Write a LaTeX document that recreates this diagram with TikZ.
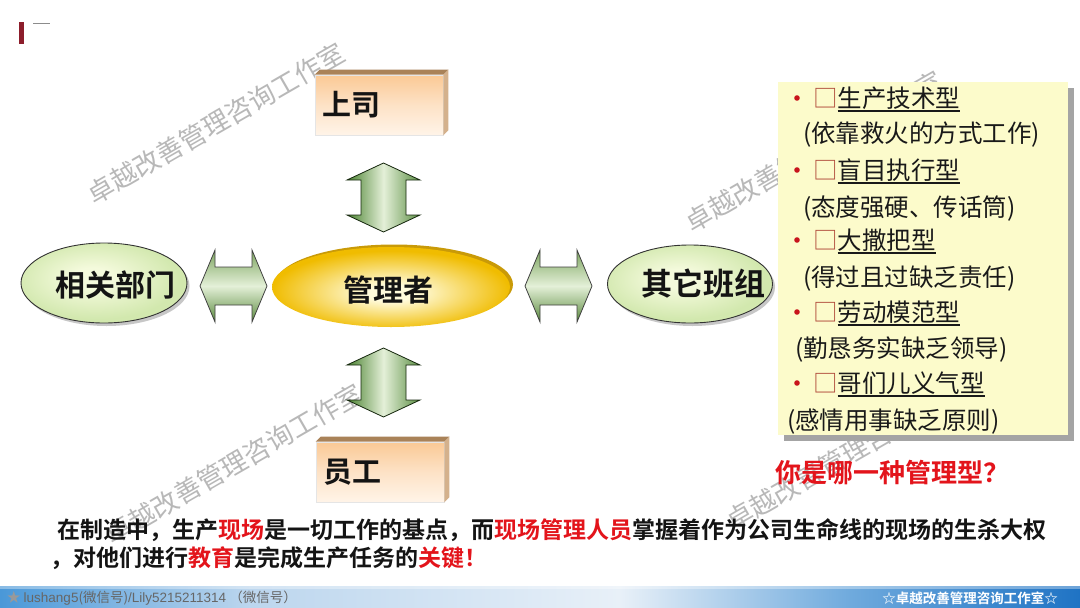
\documentclass[tikz,border=0pt]{standalone}
\usepackage{fontspec}
\setmainfont{Noto Sans CJK SC}[BoldFont={Noto Sans CJK SC Bold}]
\newfontfamily\latf{Liberation Sans}
\usetikzlibrary{shapes.geometric,calc}
\definecolor{redbar}{HTML}{8C1D2B}
\definecolor{bxT}{HTML}{FAC995}
\definecolor{bxM}{HTML}{FDE2C6}
\definecolor{bxB}{HTML}{FFF4E8}
\definecolor{bevT}{HTML}{A98258}
\definecolor{bevR}{HTML}{D4B18C}
\definecolor{agD}{HTML}{4A8230}
\definecolor{agL}{HTML}{E4F0D8}
\definecolor{ahT}{HTML}{7DA560}
\definecolor{ahB}{HTML}{5A8A3E}
\definecolor{goldD}{HTML}{F0BC00}
\definecolor{goldL}{HTML}{FFFBDC}
\definecolor{goldR}{HTML}{C99A08}
\definecolor{grL}{HTML}{F4FADC}
\definecolor{grD}{HTML}{D2E8AE}
\definecolor{panelY}{HTML}{FCFBCB}
\definecolor{shadowG}{HTML}{A4A4A4}
\definecolor{redtxt}{HTML}{E3141B}
\definecolor{bulred}{HTML}{C8141C}
\definecolor{boxred}{HTML}{B04A3A}
\definecolor{wmgray}{HTML}{B8B8B8}
\definecolor{barA}{HTML}{4A98D8}
\definecolor{barB}{HTML}{BCD6EE}
\definecolor{barC}{HTML}{E8F0F8}
\definecolor{barD}{HTML}{6FAADD}
\definecolor{barE}{HTML}{1F73C4}
\pgfdeclareradialshading{goldsh}{\pgfpoint{0bp}{-4bp}}{color(0bp)=(goldL); color(5bp)=(goldL); color(25bp)=(goldD); color(60bp)=(goldD)}
\pgfdeclareradialshading{greensh}{\pgfpoint{-4bp}{4bp}}{color(0bp)=(grL); color(6bp)=(grL); color(25bp)=(grD); color(60bp)=(grD)}
\newcommand\ulin[1]{\setbox0\hbox{#1}\rlap{\rule[-4.6pt]{\wd0}{1.3pt}}\box0}
\newcommand\vdarr[1]{\draw[varr,shift={(#1)}] (0,-34.5) -- (36.5,-17.5) -- (22.5,-17.5) -- (22.5,17.5) -- (36.5,17.5) -- (0,34.5) -- (-36.5,17.5) -- (-22.5,17.5) -- (-22.5,-17.5) -- (-36.5,-17.5) -- cycle;}
\newcommand\hdarr[1]{\draw[harr,shift={(#1)}] (-33.5,0) -- (-18.5,-36) -- (-18.5,-19) -- (18.5,-19) -- (18.5,-36) -- (33.5,0) -- (18.5,36) -- (18.5,19) -- (-18.5,19) -- (-18.5,36) -- cycle;}
\begin{document}
\begin{tikzpicture}[x=1pt,y=-1pt,
  wm/.style={text=wmgray, font=\fontsize{26.5}{26.5}\selectfont, rotate=30, inner sep=0},
  lbl/.style={font=\bfseries\fontsize{30}{30}\selectfont, text=black!92, inner sep=0},
  bx/.style={rectangle, minimum width=128pt, minimum height=60pt, inner sep=0pt, top color=bxT, bottom color=bxB, middle color=bxM, draw=black!10, line width=0.6pt, text width=114pt, align=left, font=\bfseries\fontsize{29}{29}\selectfont, text=black!92},
  varr/.style={left color=agD, right color=agD!90, middle color=agL, draw=black!70!agD, line width=0.8pt, line join=miter},
  harr/.style={top color=ahT, bottom color=ahB, middle color=agL, draw=black!75, line width=0.8pt, line join=miter},
  grell/.style={ellipse, shade, shading=greensh, draw=black!80, line width=0.9pt, inner sep=0pt},
  ptxt/.style={font=\fontsize{24.5}{24.5}\selectfont, anchor=base west, inner sep=0pt, text=black!90},
  btxt/.style={font=\bfseries\fontsize{23}{23}\selectfont, anchor=base west, inner sep=0pt, text=black!92}]
\useasboundingbox (0,0) rectangle (1080,608);
\fill[white] (0,0) rectangle (1080,608);
% top-left marks
\fill[redbar] (19,22) rectangle (24,44);
\draw[black!45, line width=0.9pt] (33,23.5) -- (50,23.5);
% watermarks
\node[wm] (wm1) at (216,123.5) {卓越改善管理咨询工作室};
\node[wm] (wm2) at (814,151.5) {卓越改善管理咨询工作室};
\node[wm] (wm3) at (234,464) {卓越改善管理咨询工作室};
\node[wm] (wm4) at (855,450) {卓越改善管理咨询工作室};
% right panel
\fill[shadowG] (784,88) rectangle (1074,441);
\fill[panelY] (778,82) rectangle (1068,435);
% boxes
\node[bx] (boss) at (379,105) {上司};
\fill[bevT] (boss.north west) -- ++(5,-5) -- ($(boss.north east)+(5,-5)$) -- (boss.north east) -- cycle;
\fill[bevR] (boss.north east) -- ++(5,-5) -- ($(boss.south east)+(5,-5)$) -- (boss.south east) -- cycle;
\node[bx] (emp) at (380,472) {员工};
\fill[bevT] (emp.north west) -- ++(5,-5) -- ($(emp.north east)+(5,-5)$) -- (emp.north east) -- cycle;
\fill[bevR] (emp.north east) -- ++(5,-5) -- ($(emp.south east)+(5,-5)$) -- (emp.south east) -- cycle;
% manager ellipse
\node[ellipse, fill=goldR, minimum width=238pt, minimum height=80pt, inner sep=0pt] (mgrrim) at (394,284.5) {};
\node[ellipse, shade, shading=goldsh, minimum width=238pt, minimum height=80pt, inner sep=0pt] (mgr) at (391,287) {};
\node[lbl] (mgrt) at (388,290) {管理者};
% side ellipses
\node[ellipse, fill=black!22, minimum width=166pt, minimum height=80pt] (depts) at (106.5,286) {};
\node[grell, minimum width=166pt, minimum height=80pt] (dept) at (104,283) {};
\node[lbl] (deptt) at (116,285) {相关部门};
\node[ellipse, fill=black!22, minimum width=165pt, minimum height=78pt] (oths) at (692.5,287) {};
\node[grell, minimum width=165pt, minimum height=78pt] (oth) at (690,284) {};
\node[lbl, font=\bfseries\fontsize{31}{31}\selectfont] (otht) at (703,284) {其它班组};
% block arrows
\coordinate (a1) at (383.5,197.5);
\coordinate (a2) at (383.5,382.5);
\coordinate (a3) at (233.5,286);
\coordinate (a4) at (558.5,286);
\vdarr{a1}
\vdarr{a2}
\hdarr{a3}
\hdarr{a4}
% panel list
\foreach \y in {98,170,240,312,383} \fill[bulred] (797,\y) circle (2.8pt);
\node[ptxt] (t1) at (813,107) {{\color{boxred}□}\ulin{生产技术型}};
\node[ptxt] (s1) at (803,142) {(依靠救火的方式工作)};
\node[ptxt] (t2) at (813,179) {{\color{boxred}□}\ulin{盲目执行型}};
\node[ptxt] (s2) at (803,216) {(态度强硬、传话筒)};
\node[ptxt] (t3) at (813,249) {{\color{boxred}□}\ulin{大撒把型}};
\node[ptxt] (s3) at (803,286) {(得过且过缺乏责任)};
\node[ptxt] (t4) at (813,321) {{\color{boxred}□}\ulin{劳动模范型}};
\node[ptxt] (s4) at (795,357) {(勤恳务实缺乏领导)};
\node[ptxt] (t5) at (813,392) {{\color{boxred}□}\ulin{哥们儿义气型}};
\node[ptxt] (s5) at (787,429) {(感情用事缺乏原则)};
% question
\node[btxt, font=\bfseries\fontsize{26}{26}\selectfont, text=redtxt] (q) at (775,482) {你是哪一种管理型？};
% bottom statement
\node[btxt] (l1) at (57,538.5) {在制造中，生产{\color{redtxt}现场}是一切工作的基点，而{\color{redtxt}现场管理人员}掌握着作为公司生命线的现场的生杀大权};
\node[btxt] (l2) at (50,566.5) {，对他们进行{\color{redtxt}教育}是完成生产任务的{\color{redtxt}关键！}};
% bottom bar
\fill[left color=barA, right color=barB] (0,586) rectangle (250,608);
\fill[left color=barB, right color=barC] (250,586) rectangle (620,608);
\fill[left color=barC, right color=barD] (620,586) rectangle (850,608);
\fill[left color=barD, right color=barE] (850,586) rectangle (1080,608);
\fill[white, opacity=0.35] (0,586) rectangle (1080,589);
\node[anchor=west, inner sep=0pt, text=black!60, font=\fontsize{13.5}{13.5}\selectfont] (foot1) at (7,598) {{\color{black!40}★} {\latf lushang5}(微信号){\latf /Lily5215211314} （微信号）};
\node[inner sep=0pt, text=white, font=\bfseries\fontsize{13.5}{13.5}\selectfont] (foot2) at (970,598) {☆卓越改善管理咨询工作室☆};
\end{tikzpicture}
\end{document}
